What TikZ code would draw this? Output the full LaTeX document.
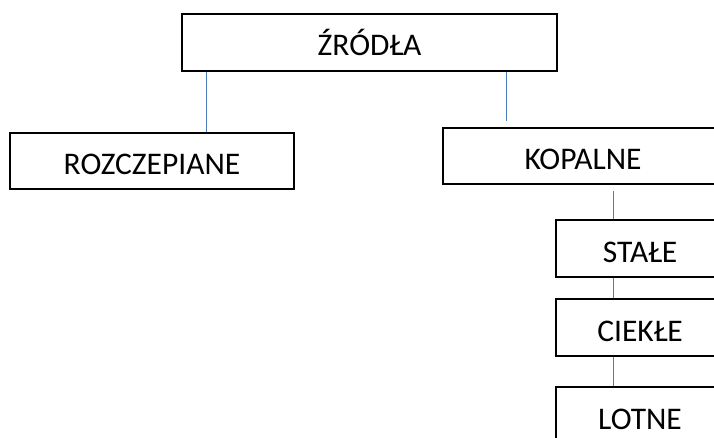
\documentclass[tikz,border=0pt]{standalone}
\usepackage{fontspec}
\setmainfont{Carlito}
\definecolor{connblue}{RGB}{74,126,187}
\begin{document}
\begin{tikzpicture}[x=1pt,y=-1pt,
  box/.style={draw=black,line width=1.4pt,fill=white,inner sep=0pt,
    text height=27pt,text depth=0pt,
    font=\fontsize{31.5}{31.5}\selectfont},
  conn/.style={draw=connblue,line width=1.4pt}]
\useasboundingbox (0,0) rectangle (714,438);
\clip (0,0) rectangle (714,438);
\node[box,minimum width=375pt,minimum height=57pt] (src) at (369.5,42.5) {ŹRÓDŁA};
\node[box,minimum width=284pt,minimum height=56pt] (roz) at (152,161) {ROZCZEPIANE};
\node[box,minimum width=280pt,minimum height=56pt] (kop) at (583,156) {KOPALNE};
\node[box,minimum width=168pt,minimum height=57pt] (sta) at (640,248.5) {STAŁE};
\node[box,minimum width=168pt,minimum height=57pt] (cie) at (640,327.5) {CIEKŁE};
\node[box,minimum width=168pt,minimum height=57pt] (lot) at (640,415.5) {LOTNE};
\coordinate (s1) at ([xshift=25pt]src.south west);
\coordinate (s2) at ([xshift=-51pt]src.south east);
\coordinate (kgap) at ([yshift=6pt]kop.north);
\coordinate (kbot) at ([yshift=-6pt]kop.south);
\coordinate (v) at ([xshift=58pt]sta.north west);
\draw[conn] (s1) -- (s1 |- roz.north);
\draw[conn] (s2) -- (s2 |- kgap);
\draw[conn] (v |- kbot) -- (v |- sta.north);
\draw[conn] (v |- sta.south) -- (v |- cie.north);
\draw[conn] (v |- cie.south) -- (v |- lot.north);
\end{tikzpicture}
\end{document}
